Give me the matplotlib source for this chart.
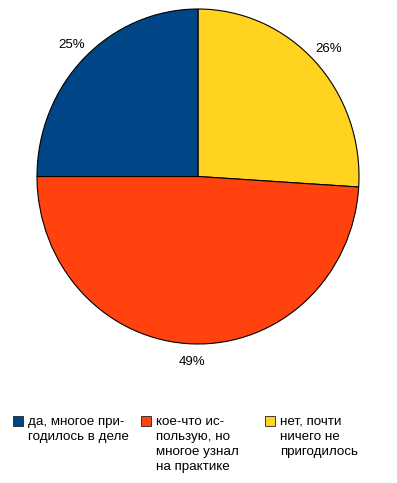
import matplotlib
matplotlib.use("Agg")
import matplotlib.pyplot as plt
from matplotlib.patches import Rectangle

plt.rcParams['font.family'] = ['Liberation Sans', 'DejaVu Sans']

# Données du graphique
categories = ["да, многое при-\nгодилось в деле",
              "кое-что ис-\nпользую, но\nмногое узнал\nна практике",
              "нет, почти\nничего не\nпригодилось"]
values = [25, 49, 26]
colors = ["#004586", "#ff420e", "#ffd320"]

W, H = 397, 483
fig = plt.figure(figsize=(W / 100, H / 100), dpi=100)

# Axes du camembert (en pixels)
ax = fig.add_axes([37 / W, 139 / H, 322 / W, 335 / H])
# ordre dans le sens horaire depuis 12h : jaune, orange, bleu
order = [2, 1, 0]
wedges, texts = ax.pie([values[i] for i in order],
                       colors=[colors[i] for i in order],
                       labels=[f"{values[i]}%" for i in order],
                       startangle=90, counterclock=False,
                       labeldistance=1.11,
                       wedgeprops=dict(edgecolor="black", linewidth=0.8),
                       textprops=dict(fontsize=9.5, color="black"))
for t in texts:
    t.set_horizontalalignment("center")
    t.set_verticalalignment("center")
ax.set_aspect("auto")
ax.set_xlim(-1, 1)
ax.set_ylim(-1, 1)
ax.axis("off")

# Légende
leg_x = [13, 141, 265]
for x0, lab, c in zip(leg_x, categories, colors):
    fig.patches.append(Rectangle((x0 / W, 1 - 426 / H), 10 / W, 10 / H,
                                 transform=fig.transFigure, facecolor=c,
                                 edgecolor="#222222", linewidth=0.6))
    fig.text((x0 + 15) / W, 1 - 416 / H, lab, fontsize=9.6, va="top", ha="left",
             linespacing=1.33)

fig.savefig("out.png", dpi=100)
